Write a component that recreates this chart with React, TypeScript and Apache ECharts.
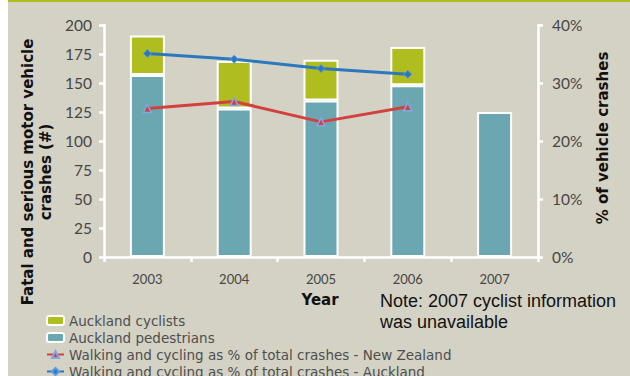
import React, { useEffect, useRef } from "react";
import * as echarts from "echarts";

const years = ["2003", "2004", "2005", "2006", "2007"];
const pedestrians = [157, 128, 135, 148, 125];
const cyclists: (number | null)[] = [34, 41, 35, 33, null];
const pctNZ: (number | null)[] = [25.6, 26.8, 23.3, 25.9, null];
const pctAuckland: (number | null)[] = [35.1, 34.1, 32.5, 31.5, null];
const leftTicks = { min: 0, max: 200, interval: 25 };
const rightTicks = { min: 0, max: 40, interval: 10 };

const BG = "#d4d2c4";
const OLIVE = "#afbd1e";
const TEAL = "#6ba7b0";
const RED = "#d2413f";
const BLUE = "#2b78bf";
const LABEL = "#464646";
const FONT = "Lato, 'DejaVu Sans', sans-serif";
const BOLD = "bold 15px 'DejaVu Sans', Verdana, sans-serif";

export default function App() {
  const ref = useRef<HTMLDivElement>(null);
  useEffect(() => {
    if (!ref.current) return;
    const chart = echarts.init(ref.current, undefined, { renderer: "svg" });
    chart.setOption({
      animation: false,
      backgroundColor: BG,
      grid: { left: 96, right: 92, top: 25, bottom: 119 },
      xAxis: {
        type: "category",
        data: years,
        axisLine: { lineStyle: { color: "#ffffff", width: 2.5 } },
        axisTick: { show: true, length: 5, lineStyle: { color: "#ffffff", width: 2.5 } },
        axisLabel: { color: LABEL, fontFamily: FONT, fontSize: 13, margin: 15 },
      },
      yAxis: [
        {
          type: "value",
          ...leftTicks,
          axisLine: { show: true, lineStyle: { color: "#ffffff", width: 2.5 } },
          axisTick: { show: true, length: 5, lineStyle: { color: "#ffffff", width: 2.5 } },
          splitLine: { show: false },
          axisLabel: { color: LABEL, fontFamily: FONT, fontSize: 15.5, margin: 12 },
        },
        {
          type: "value",
          ...rightTicks,
          position: "right",
          axisLine: { show: true, lineStyle: { color: "#ffffff", width: 2.5 } },
          axisTick: { show: true, length: 5, lineStyle: { color: "#ffffff", width: 2.5 } },
          splitLine: { show: false },
          axisLabel: { color: LABEL, fontFamily: FONT, fontSize: 15.5, margin: 14, formatter: "{value}%" },
        },
      ],
      legend: {
        orient: "vertical",
        left: 38,
        top: 312,
        height: 90,
        padding: 0,
        itemGap: 0,
        itemWidth: 17,
        itemHeight: 9,
        textStyle: { color: "#4e4e4e", fontFamily: "'DejaVu Sans', sans-serif", fontSize: 13.5, lineHeight: 17 },
        data: [
          { name: "Auckland cyclists" },
          { name: "Auckland pedestrians" },
          { name: "Walking and cycling as % of total crashes - New Zealand" },
          { name: "Walking and cycling as % of total crashes - Auckland" },
        ],
      },
      graphic: [
        { type: "rect", left: 0, top: 0, shape: { width: 622, height: 2 }, style: { fill: OLIVE } },
        {
          type: "text",
          x: 29,
          y: 172,
          rotation: Math.PI / 2,
          style: {
            text: "Fatal and serious motor vehicle\ncrashes (#)",
            align: "center",
            verticalAlign: "middle",
            lineHeight: 18,
            font: BOLD,
            fill: "#111111",
          },
        },
        {
          type: "text",
          x: 595,
          y: 138,
          rotation: Math.PI / 2,
          style: {
            text: "% of vehicle crashes",
            align: "center",
            verticalAlign: "middle",
            font: BOLD,
            fill: "#111111",
          },
        },
        {
          type: "text",
          x: 312,
          y: 300,
          style: {
            text: "Year",
            align: "center",
            verticalAlign: "middle",
            font: BOLD,
            fill: "#111111",
          },
        },
        {
          type: "text",
          x: 372,
          y: 311.5,
          style: {
            text: "Note: 2007 cyclist information\nwas unavailable",
            align: "left",
            verticalAlign: "middle",
            lineHeight: 21,
            font: "18px 'Liberation Sans', Arial, sans-serif",
            fill: "#111111",
          },
        },
      ],
      series: [
        {
          name: "Auckland pedestrians",
          type: "bar",
          stack: "crashes",
          data: pedestrians,
          barWidth: 35,
          itemStyle: { color: TEAL, borderColor: "#ffffff", borderWidth: 2 },
        },
        {
          name: "Auckland cyclists",
          type: "bar",
          stack: "crashes",
          data: cyclists,
          barWidth: 35,
          itemStyle: { color: OLIVE, borderColor: "#ffffff", borderWidth: 2 },
        },
        {
          name: "Walking and cycling as % of total crashes - New Zealand",
          type: "line",
          yAxisIndex: 1,
          data: pctNZ,
          symbol: "triangle",
          symbolSize: 8,
          lineStyle: { color: RED, width: 3 },
          itemStyle: { color: RED, borderColor: "#7ea8e6", borderWidth: 1.5 },
        },
        {
          name: "Walking and cycling as % of total crashes - Auckland",
          type: "line",
          yAxisIndex: 1,
          data: pctAuckland,
          symbol: "diamond",
          symbolSize: 8,
          lineStyle: { color: BLUE, width: 3 },
          itemStyle: { color: BLUE, borderColor: "#5a9ae0", borderWidth: 1 },
        },
      ],
    });
    return () => chart.dispose();
  }, []);
  return (
    <div
      ref={ref}
      style={{ position: "absolute", left: 8, top: 0, width: 622, height: 376 }}
    />
  );
}
